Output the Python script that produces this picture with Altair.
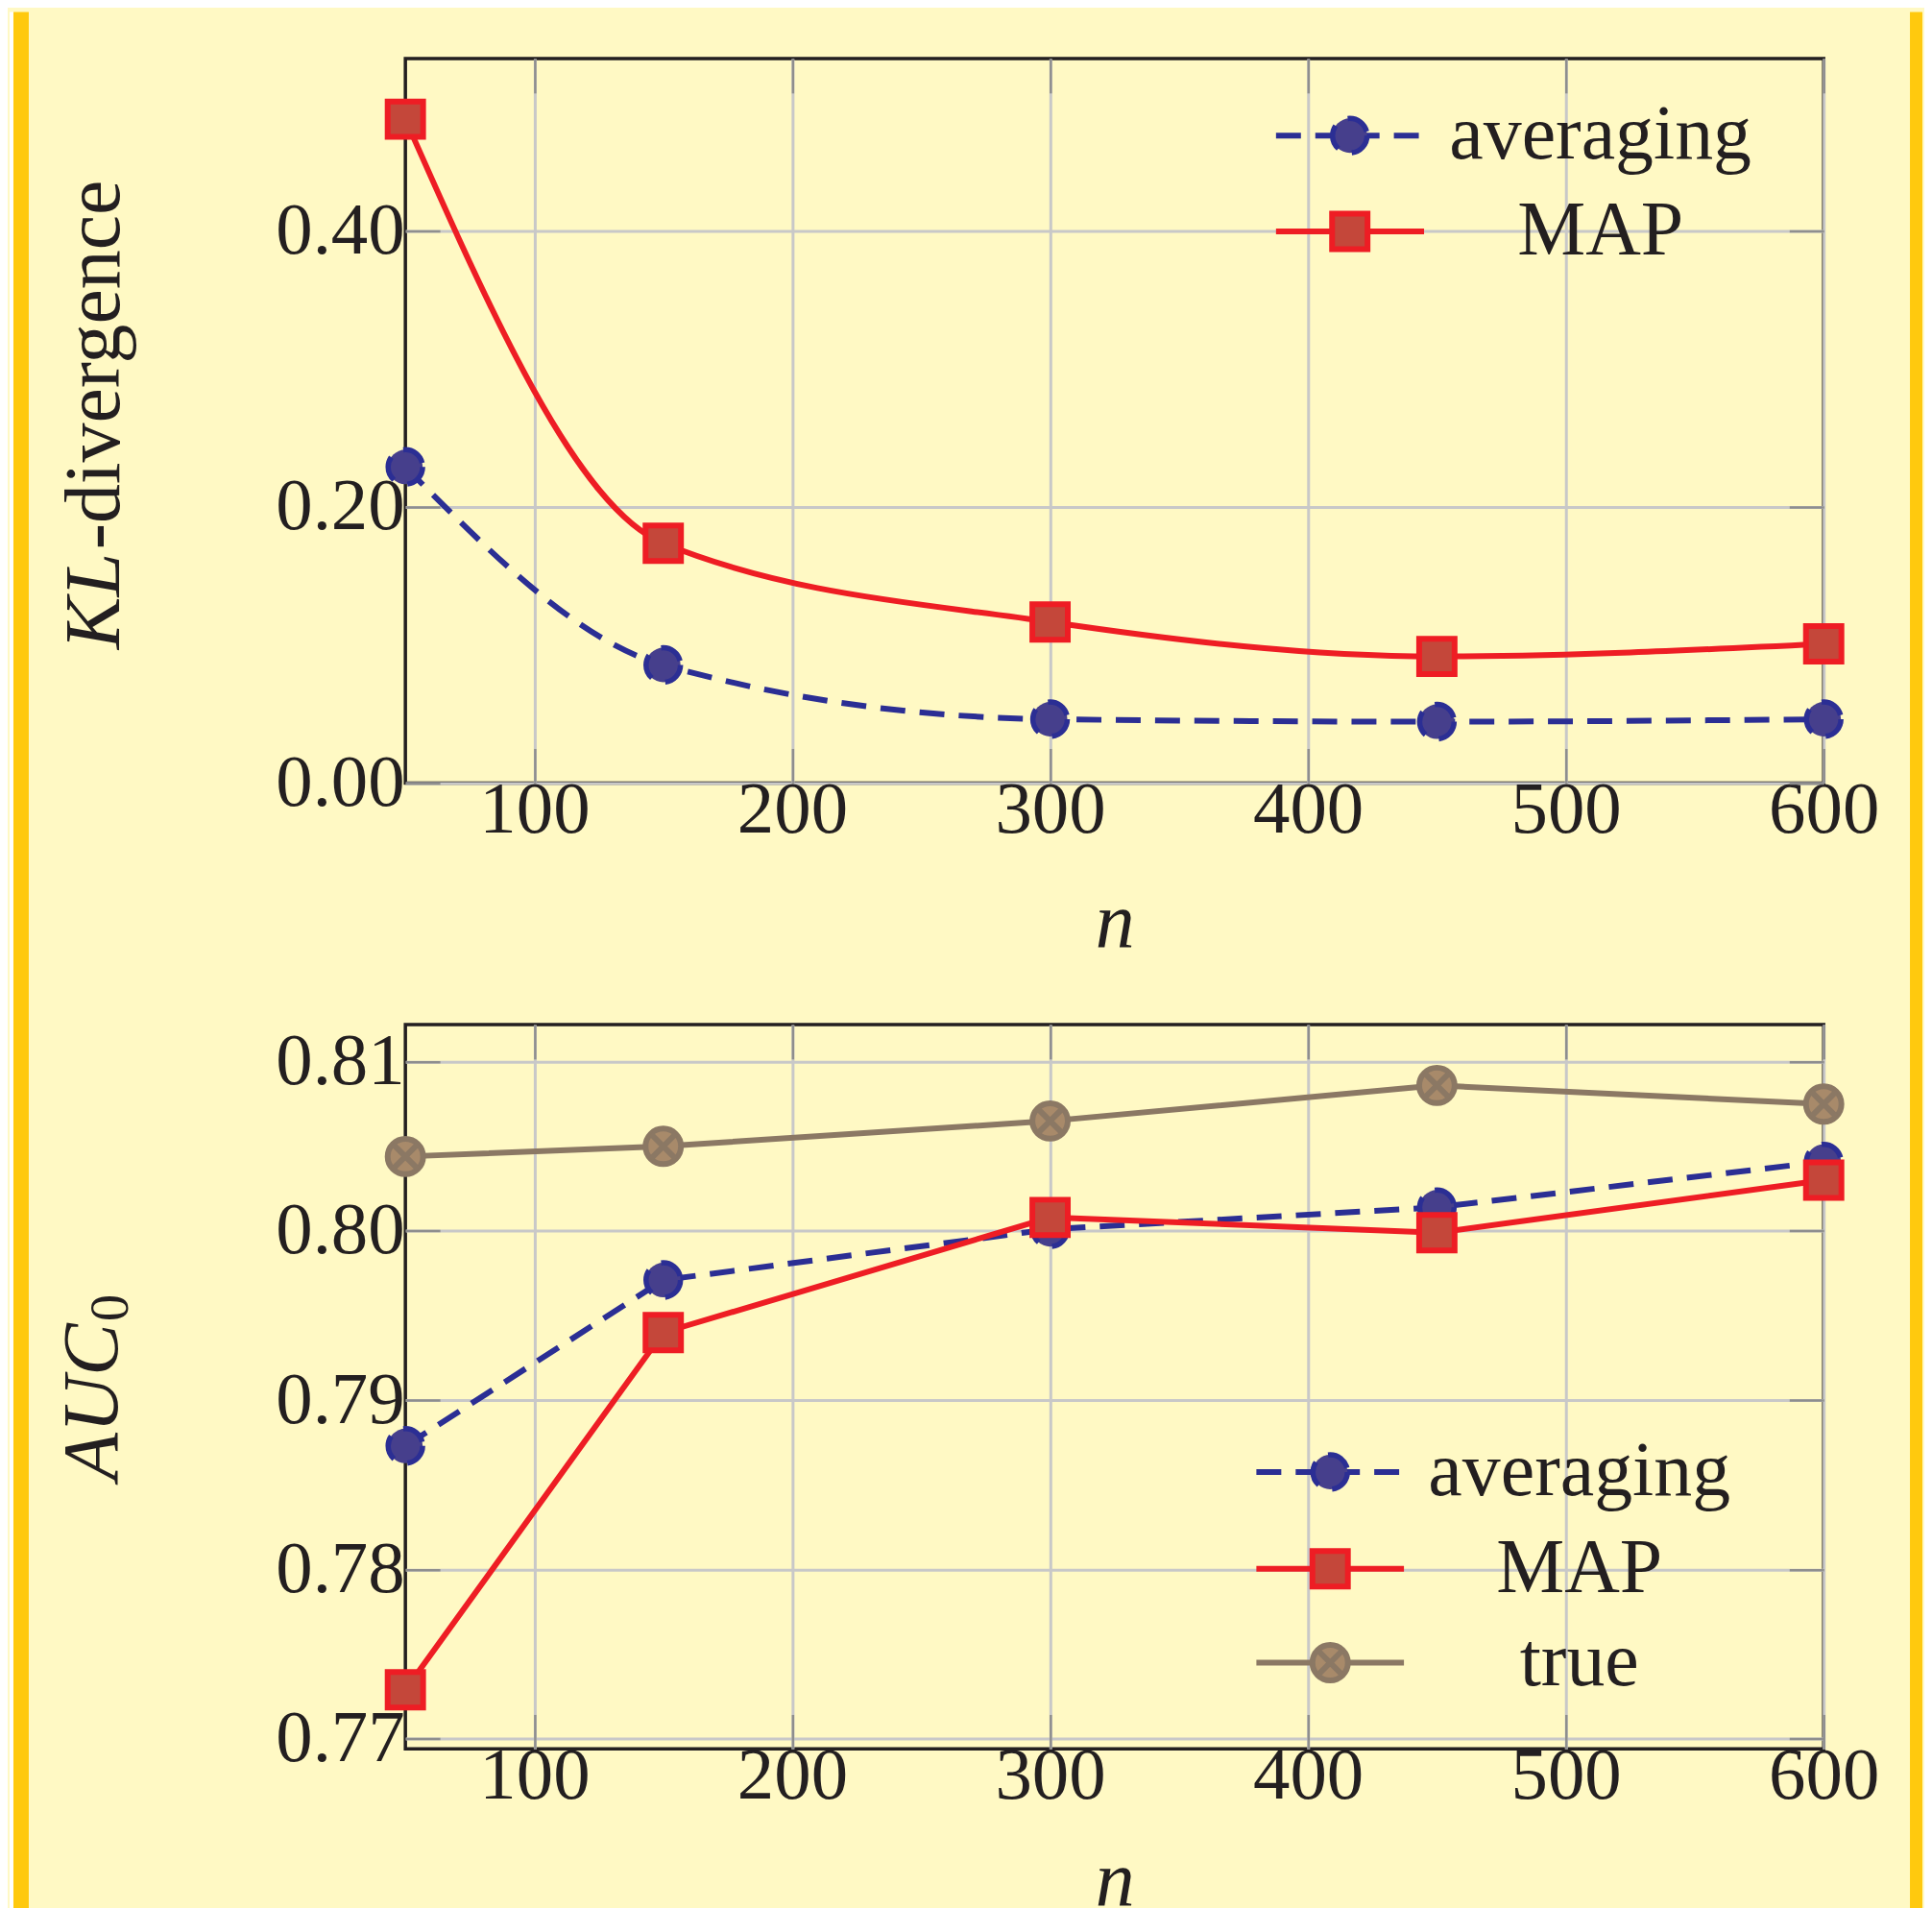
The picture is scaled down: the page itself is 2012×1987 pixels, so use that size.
import altair as alt
import pandas as pd

# ---------------- data ----------------
n_values = [50, 150, 300, 450, 600]

kl_series = ["averaging", "MAP"]
kl_averaging = [0.229, 0.0855, 0.0462, 0.0444, 0.0462]
kl_map = [0.481, 0.1737, 0.1167, 0.0917, 0.1008]

auc_series = ["averaging", "MAP", "true"]
auc_averaging = [0.7873, 0.7971, 0.8001, 0.8014, 0.8041]
auc_map = [0.7729, 0.7940, 0.8008, 0.7999, 0.8030]
auc_true = [0.8044, 0.8050, 0.8065, 0.8086, 0.8075]

x_ticks = [100, 200, 300, 400, 500, 600]
kl_ticks = [0.0, 0.2, 0.4]
auc_ticks = [0.77, 0.78, 0.79, 0.80, 0.81]

# ---------------- style ----------------
FONT = "Liberation Serif"
TXT = "#231F20"
GRID = "#C8C8C8"
TICK = "#8E8E8E"
BG = "#FFF9C4"
GOLD = "#FFC90E"
BLUE, BLUE_FILL = "#2B2E94", "#463F8C"
RED, RED_FILL = "#EE1D24", "#C4473A"
BROWN, BROWN_FILL = "#8B7864", "#A88A6A"
DASH = [26, 15]
LW = 6
TL = 36
W = 1480
H = 756
LABEL_FS = 77
LEGEND_FS = 80
TITLE_FS = 82
XPATH = "M-0.7071,-0.7071L0.7071,0.7071M-0.7071,0.7071L0.7071,-0.7071"

STY = {
    "averaging": dict(color=BLUE, fill=BLUE_FILL, shape="circle", size=1296, sw=5.5, dash=True, cross=False),
    "MAP": dict(color=RED, fill=RED_FILL, shape="square", size=1369, sw=6, dash=False, cross=False),
    "true": dict(color=BROWN, fill=BROWN_FILL, shape="circle", size=1369, sw=6, dash=False, cross=True),
}

xscale = alt.Scale(domain=[50, 600], nice=False, zero=False)


def frame(vals):
    return pd.DataFrame({"n": n_values, "v": vals})


def axis_layers(df, yscale, y_ticks, title_y):
    lab = alt.Chart(df).mark_point(opacity=0).encode(
        x=alt.X("n:Q", scale=xscale, axis=alt.Axis(
            orient="bottom", values=x_ticks, grid=True, gridColor=GRID, gridWidth=3,
            ticks=False, tickSize=0, domain=False, labelFont=FONT, labelFontSize=LABEL_FS,
            labelColor=TXT, labelPadding=-10, labelFlush=False, labelOverlap=False,
            title="n", titleFont=FONT, titleFontStyle="italic", titleFontWeight="normal",
            titleFontSize=TITLE_FS, titleColor=TXT, titleBaseline="alphabetic", titleY=title_y)),
        y=alt.Y("v:Q", scale=yscale, axis=alt.Axis(
            orient="left", values=y_ticks, format=".2f", grid=True, gridColor=GRID,
            gridWidth=3, ticks=False, tickSize=0, domain=False, labelFont=FONT,
            labelFontSize=LABEL_FS, labelColor=TXT, labelPadding=1, labelFlush=False,
            labelOverlap=False, title=None)),
    )

    def tick_axis(orient, vals):
        return alt.Axis(orient=orient, values=vals, grid=False, ticks=True, tickSize=TL,
                        tickColor=TICK, tickWidth=2.5, offset=-TL, labels=False,
                        domain=False, title=None)

    bl = alt.Chart(df).mark_point(opacity=0).encode(
        x=alt.X("n:Q", scale=xscale, axis=tick_axis("bottom", x_ticks)),
        y=alt.Y("v:Q", scale=yscale, axis=tick_axis("left", y_ticks)),
    )
    tr = alt.Chart(df).mark_point(opacity=0).encode(
        x=alt.X("n:Q", scale=xscale, axis=tick_axis("top", x_ticks)),
        y=alt.Y("v:Q", scale=yscale, axis=tick_axis("right", y_ticks)),
    )
    return [lab, bl, tr]


def marker_kwargs(st):
    kw = dict(shape=st["shape"], size=st["size"], filled=True, fill=st["fill"],
              stroke=st["color"], strokeWidth=st["sw"], opacity=1)
    if st["dash"]:
        kw["strokeDash"] = DASH
    return kw


def cross_kwargs(st):
    return dict(shape=XPATH, size=st["size"], filled=False, stroke=st["color"],
                strokeWidth=st["sw"], opacity=1)


def series_layers(name, vals, yscale, interp):
    st = STY[name]
    df = frame(vals)
    line_kw = dict(color=st["color"], strokeWidth=LW, interpolate=interp)
    if st["dash"]:
        line_kw["strokeDash"] = DASH
    enc = dict(x=alt.X("n:Q", scale=xscale, axis=None), y=alt.Y("v:Q", scale=yscale, axis=None))
    out = [alt.Chart(df).mark_line(**line_kw).encode(**enc),
           alt.Chart(df).mark_point(**marker_kwargs(st)).encode(**enc)]
    if st["cross"]:
        out.append(alt.Chart(df).mark_point(**cross_kwargs(st)).encode(**enc))
    return out


def legend_layers(names, rows_y, line_x, marker_x, text_x):
    out = []
    for name, y in zip(names, rows_y):
        st = STY[name]
        d = alt.Chart(pd.DataFrame({"label": [name]}))
        rule_kw = dict(color=st["color"], strokeWidth=LW)
        if st["dash"]:
            rule_kw["strokeDash"] = DASH
        out.append(d.mark_rule(**rule_kw).encode(
            x=alt.value(line_x[0]), x2=alt.value(line_x[1]), y=alt.value(y)))
        out.append(d.mark_point(**marker_kwargs(st)).encode(x=alt.value(marker_x), y=alt.value(y)))
        if st["cross"]:
            out.append(d.mark_point(**cross_kwargs(st)).encode(x=alt.value(marker_x), y=alt.value(y)))
        out.append(d.mark_text(font=FONT, fontSize=LEGEND_FS, color=TXT, align="center",
                               baseline="middle").encode(
            x=alt.value(text_x), y=alt.value(y), text="label:N"))
    return out


def vtext(txt, x, y, size, style="normal"):
    return alt.Chart(pd.DataFrame({"t": [txt]})).mark_text(
        font=FONT, fontSize=size, fontStyle=style, color=TXT, angle=270,
        align="left", baseline="alphabetic").encode(
        x=alt.value(x), y=alt.value(y), text="t:N")


def band(x1, x2, color):
    return alt.Chart(pd.DataFrame({"k": [0]})).mark_rect(color=color).encode(
        x=alt.value(x1), x2=alt.value(x2), y=alt.value(-48.5), y2=alt.value(1944))


# ---------------- top panel ----------------
kl_scale = alt.Scale(domain=[0, 0.525], nice=False, zero=False)
kl_all = pd.concat([frame(kl_averaging), frame(kl_map)])
top_layers = [band(-413, -409, "white"), band(-409, -393, GOLD), band(1570, 1583, GOLD)]
top_layers += axis_layers(kl_all, kl_scale, kl_ticks, 170)
top_layers += series_layers("averaging", kl_averaging, kl_scale, "monotone")
top_layers += series_layers("MAP", kl_map, kl_scale, "monotone")
top_layers += legend_layers(kl_series, [80.5, 180.5], (908.5, 1063), 985.5, 1247)
top_layers += [vtext("KL", -299, 616.5, TITLE_FS, "italic"),
               vtext("-divergence", -299, 512.5, TITLE_FS)]
top = alt.layer(*top_layers).properties(width=W, height=H).resolve_axis(x="independent", y="independent")

# ---------------- bottom panel ----------------
auc_scale = alt.Scale(domain=[0.7694, 0.8122], nice=False, zero=False)
auc_all = pd.concat([frame(auc_averaging), frame(auc_map), frame(auc_true)])
bot_layers = axis_layers(auc_all, auc_scale, auc_ticks, 162)
bot_layers += series_layers("averaging", auc_averaging, auc_scale, "linear")
bot_layers += series_layers("MAP", auc_map, auc_scale, "linear")
bot_layers += series_layers("true", auc_true, auc_scale, "linear")
bot_layers += legend_layers(auc_series, [467, 568, 666], (888, 1042), 965, 1225)
bot_layers += [vtext("AUC", -301, 476, TITLE_FS, "italic"), vtext("0", -290, 310, 57)]
bottom = alt.layer(*bot_layers).properties(width=W, height=H).resolve_axis(x="independent", y="independent")

chart = alt.vconcat(top, bottom, spacing=252, bounds="flush").properties(
    background=BG, padding={"left": 0, "top": 0, "right": 0, "bottom": 0}
).configure(font=FONT).configure_view(stroke=TXT, strokeWidth=3.5)

chart.save("out.html", embed_options={"renderer": "svg", "actions": False})
